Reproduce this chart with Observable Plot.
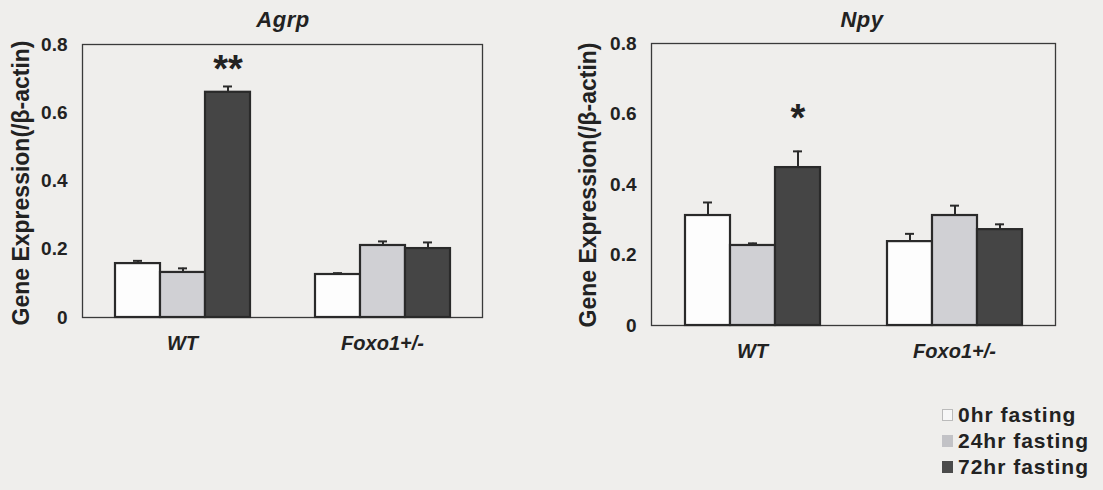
<!DOCTYPE html>
<html>
<head>
<meta charset="utf-8">
<script src="https://cdn.jsdelivr.net/npm/d3@7"></script>
<script src="https://cdn.jsdelivr.net/npm/@observablehq/plot@0.6"></script>
<style>
  body { margin: 0; background: #efeeec; }
  #fig { position: relative; width: 1103px; height: 490px; overflow: hidden;
         font-family: "Liberation Sans", Arial, sans-serif; color: #222; font-weight: bold; }
  .panel { position: absolute; top: 0; }
  .title { position: absolute; top: 7px; font-size: 22px; font-style: italic;
           transform: translateX(-50%); white-space: nowrap; letter-spacing: 0.5px; }
  .ylabel { position: absolute; font-size: 23px; white-space: nowrap;
            transform: translate(-50%, -50%) rotate(-90deg); }
  .legend { position: absolute; left: 942px; top: 402px; font-size: 21px; letter-spacing: 1px; }
  .legend .row { display: flex; align-items: center; height: 26px; }
  .legend .sw { width: 11px; height: 12px; margin-right: 5px; box-sizing: border-box; }
</style>
</head>
<body>
<div id="fig"></div>
<script>
// Genotype groups and fasting conditions
const groups = ["WT", "Foxo1+/-"];
const fastings = ["0hr fasting", "24hr fasting", "72hr fasting"];
const fillColors = ["#fdfdfd", "#d0d0d4", "#454545"];
const swatchColors = ["#f7f7f7", "#c2c2c6", "#4b4b4b"];
const yTicks = [0, 0.2, 0.4, 0.6, 0.8];

// Agrp expression: WT (0, 24, 72 hr) then Foxo1+/- (0, 24, 72 hr)
const agrpMean = [0.158, 0.132, 0.660, 0.126, 0.211, 0.202];
const agrpErr  = [0.008, 0.012, 0.017, 0.004, 0.012, 0.018];
const agrpSig  = ["", "", "**", "", "", ""];

// Npy expression, same order
const npyMean = [0.312, 0.227, 0.448, 0.238, 0.312, 0.272];
const npyErr  = [0.037, 0.006, 0.046, 0.022, 0.028, 0.015];
const npySig  = ["", "", "*", "", "", ""];

function rows(mean, err, sig) {
  return groups.flatMap((g, gi) => fastings.map((f, fi) => {
    const i = gi * fastings.length + fi;
    return {group: g, fasting: f, value: mean[i], top: mean[i] + err[i], sig: sig[i]};
  }));
}

const font = "'Liberation Sans', Arial, sans-serif";

function panel(data, o) {
  return Plot.plot({
    width: o.width, height: o.height,
    marginLeft: o.marginLeft, marginRight: o.marginRight,
    marginTop: o.marginTop, marginBottom: o.marginBottom,
    style: {background: "transparent", fontFamily: font, fontWeight: "bold", color: "#222", overflow: "visible"},
    fx: {domain: groups, padding: 0, label: null},
    x: {domain: fastings, paddingInner: 0, paddingOuter: 0.72, axis: null},
    y: {domain: [0, 0.8]},
    color: {domain: fastings, range: fillColors},
    marks: [
      Plot.frame({facet: "super", stroke: "#3a3a3a", strokeWidth: 1.3}),
      Plot.axisY({ticks: yTicks, tickFormat: d => d === 0 ? "0" : d.toFixed(1),
                  tickSize: 0, tickPadding: 15, fontSize: 19, label: null}),
      Plot.axisFx({anchor: "bottom", tickSize: 0, tickPadding: 18, fontSize: 20,
                   fontStyle: "italic", label: null}),
      Plot.barY(data, {fx: "group", x: "fasting", y: "value", fill: "fasting",
                       stroke: "#2a2a2a", strokeWidth: 2.2}),
      Plot.ruleX(data, {fx: "group", x: "fasting", y1: "value", y2: "top",
                        stroke: "#2a2a2a", strokeWidth: 2}),
      Plot.tickY(data, {fx: "group", x: "fasting", y: "top", insetLeft: 18, insetRight: 18,
                        stroke: "#2a2a2a", strokeWidth: 2}),
      Plot.text(data.filter(d => d.sig), {fx: "group", x: "fasting", y: "top", text: "sig",
                        fontSize: 38, fontWeight: "bold", lineAnchor: "middle", dy: o.starDy, fill: "#222"})
    ]
  });
}

const fig = document.getElementById("fig");

function place(el, left) {
  const wrap = document.createElement("div");
  wrap.className = "panel";
  wrap.style.left = left + "px";
  wrap.appendChild(el);
  fig.appendChild(wrap);
}

function addText(cls, text, left, top) {
  const d = document.createElement("div");
  d.className = cls;
  d.textContent = text;
  d.style.left = left + "px";
  if (top != null) d.style.top = top + "px";
  fig.appendChild(d);
}

place(panel(rows(agrpMean, agrpErr, agrpSig),
  {width: 545, height: 380, marginLeft: 82, marginRight: 63, marginTop: 44, marginBottom: 63, starDy: -17}), 0);
place(panel(rows(npyMean, npyErr, npySig),
  {width: 543, height: 380, marginLeft: 90, marginRight: 48, marginTop: 43, marginBottom: 55, starDy: -33}), 560);

addText("title", "Agrp", 283);
addText("title", "Npy", 862);
addText("ylabel", "Gene Expression(/\u03b2-actin)", 21, 183);
addText("ylabel", "Gene Expression(/\u03b2-actin)", 588, 185);

// Legend for the fasting conditions
const legend = document.createElement("div");
legend.className = "legend";
fastings.forEach((f, i) => {
  const row = document.createElement("div");
  row.className = "row";
  const sw = document.createElement("span");
  sw.className = "sw";
  sw.style.background = swatchColors[i];
  sw.style.border = i === 0 ? "1px solid #bbb" : "none";
  const label = document.createElement("span");
  label.textContent = f;
  row.appendChild(sw);
  row.appendChild(label);
  legend.appendChild(row);
});
fig.appendChild(legend);
</script>
</body>
</html>
